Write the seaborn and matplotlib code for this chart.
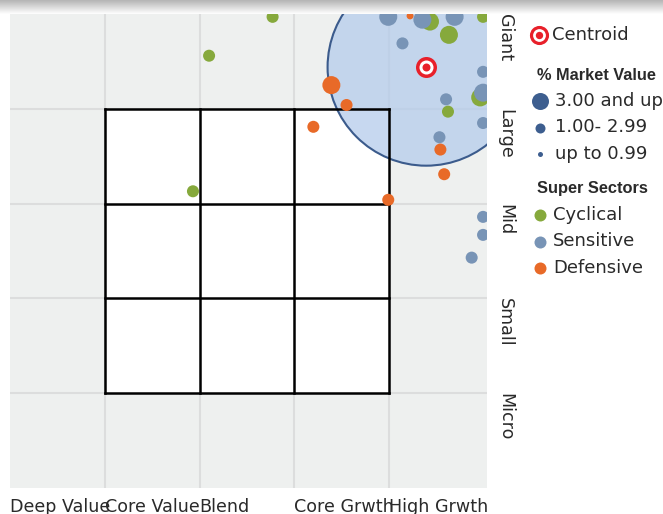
import numpy as np
import pandas as pd
import matplotlib.pyplot as plt
import seaborn as sns
from matplotlib.patches import Circle, Rectangle

sns.set_theme(style="white")
plt.rcParams['font.family'] = ['DejaVu Sans']

# holdings: style score (0-5) / size score (0-5) / sector / % market value
style_x = [3.99, 4.22, 4.43, 4.35, 4.69, 4.99, 4.14, 4.63, 4.99, 4.96, 4.99, 4.60, 4.62, 4.99,
           4.53, 4.54, 4.58, 3.39, 3.55, 3.20, 3.99, 4.99, 4.99, 4.87, 2.77, 2.10, 1.93]
size_y = [4.97, 4.98, 4.92, 4.94, 4.97, 4.97, 4.69, 4.78, 4.39, 4.12, 4.17, 4.10, 3.97, 3.85,
          3.70, 3.57, 3.31, 4.25, 4.04, 3.81, 3.04, 2.86, 2.67, 2.43, 4.97, 4.56, 3.13]
sector = ['Sensitive', 'Defensive', 'Cyclical', 'Sensitive', 'Sensitive', 'Cyclical', 'Sensitive',
          'Cyclical', 'Sensitive', 'Cyclical', 'Sensitive', 'Sensitive', 'Cyclical', 'Sensitive',
          'Sensitive', 'Defensive', 'Defensive', 'Defensive', 'Defensive', 'Defensive', 'Defensive',
          'Sensitive', 'Sensitive', 'Sensitive', 'Cyclical', 'Cyclical', 'Cyclical']
weight = [3.6, 0.6, 3.4, 3.8, 3.5, 1.5, 1.4, 3.2, 1.3, 3.1, 3.3, 1.5, 1.4, 1.2,
          1.3, 1.4, 1.5, 3.1, 1.6, 1.3, 1.4, 1.2, 1.3, 1.4, 1.5, 1.2, 1.3]

centroid = (4.39, 4.44)
centroid_radius = 1.04

style_labels = ['Deep Value', 'Core Value', 'Blend', 'Core Grwth', 'High Grwth']
size_labels = ['Giant', 'Large', 'Mid', 'Small', 'Micro']
sectors = ['Cyclical', 'Sensitive', 'Defensive']
weight_bands = ['3.00 and up', '1.00- 2.99', 'up to 0.99']

colors = {'Cyclical': '#86a93c', 'Sensitive': '#7894b6', 'Defensive': '#e86a28'}
band_sizes = {'3.00 and up': 168, '1.00- 2.99': 75, 'up to 0.99': 25}
dark_blue = '#3d5e8f'
txt = '#2a2a2a'

df = pd.DataFrame({'x': style_x, 'y': size_y, 'sector': sector, 'weight': weight})
df['band'] = pd.cut(df['weight'], [0, 1.0, 3.0, 100], right=False,
                    labels=['up to 0.99', '1.00- 2.99', '3.00 and up']).astype(str)

W, H = 663, 514
fig = plt.figure(figsize=(W / 100, H / 100), dpi=100)
ax = fig.add_axes([10 / W, (H - 488) / H, 477 / W, 474 / H])
ax.set_facecolor('#eef0ef')
ax.set_xlim(0, 477 / 94.8)
ax.set_ylim(0, 5)
for s in ax.spines.values():
    s.set_visible(False)

# grid
for k in range(1, 5):
    ax.axvline(k, color='#dcdddd', lw=1.5, zorder=1)
    ax.axhline(k, color='#dcdddd', lw=1.5, zorder=1)

# style box
ax.add_patch(Rectangle((1, 1), 3, 3, facecolor='white', edgecolor='none', zorder=2))
ax.add_patch(Circle(centroid, centroid_radius, facecolor='#b5cceb', alpha=0.75,
                    edgecolor='none', zorder=3))
ax.add_patch(Circle(centroid, centroid_radius, facecolor='none', edgecolor='#3b5b8c',
                    lw=1.5, zorder=3.5))
for k in range(1, 5):
    ax.plot([1, 4], [k, k], color='black', lw=1.8, zorder=4, solid_capstyle='projecting')
    ax.plot([k, k], [1, 4], color='black', lw=1.8, zorder=4, solid_capstyle='projecting')

sns.scatterplot(data=df, x='x', y='y', hue='sector', palette=colors, size='band',
                sizes=band_sizes, linewidth=0, alpha=1, legend=False, ax=ax, zorder=5)

# centroid target
ax.scatter([centroid[0]], [centroid[1]], s=229, color='#e8202a', lw=0, zorder=6)
ax.scatter([centroid[0]], [centroid[1]], s=102, color='white', lw=0, zorder=6)
ax.scatter([centroid[0]], [centroid[1]], s=33, color='#e8202a', lw=0, zorder=6)

ax.set_xlabel('')
ax.set_ylabel('')
ax.set_xticks(range(5))
ax.set_xticklabels(style_labels, ha='left', fontsize=12.6, color=txt)
ax.set_yticks([])
ax.tick_params(axis='x', length=0, pad=7)

for i, lab in enumerate(size_labels):
    ax.text(1.0377, 5 - i, lab, transform=ax.get_yaxis_transform(), rotation=270,
            ha='center', va='top', fontsize=12.6, color=txt)

# legend drawn in pixel space
lax = fig.add_axes([0, 0, 1, 1], facecolor='none')
lax.set_xlim(0, W)
lax.set_ylim(H, 0)
lax.axis('off')

# top shadow
grad = np.linspace(0, 1, 50).reshape(-1, 1)
lax.imshow(grad, cmap=sns.blend_palette(['#b4b4b4', '#ffffff'], as_cmap=True),
           extent=(0, W, 14, 0), aspect='auto', zorder=0)

lax.scatter([539], [35], s=190, color='#e8202a', lw=0)
lax.scatter([539], [35], s=85, color='white', lw=0)
lax.scatter([539], [35], s=28, color='#e8202a', lw=0)
lax.text(552, 35, 'Centroid', fontsize=13, color=txt, va='center')

hdr = dict(fontsize=11.8, fontweight='bold', color=txt, va='center', family='Liberation Sans')
lax.text(537, 75, '% Market Value', **hdr)
for j, band in enumerate(weight_bands):
    d = [17, 10, 5][j]
    lax.scatter([540], [101 + 26.5 * j], s=(d * 0.72) ** 2, color=dark_blue, lw=0)
    lax.text(555, 101 + 26.5 * j, band, fontsize=13, color=txt, va='center')

lax.text(537, 189, 'Super Sectors', **hdr)
for j, sec in enumerate(sectors):
    lax.scatter([540], [215 + 26.5 * j], s=(12 * 0.72) ** 2, color=colors[sec], lw=0)
    lax.text(553, 215 + 26.5 * j, sec, fontsize=13, color=txt, va='center')

fig.savefig('out.png', dpi=100)
